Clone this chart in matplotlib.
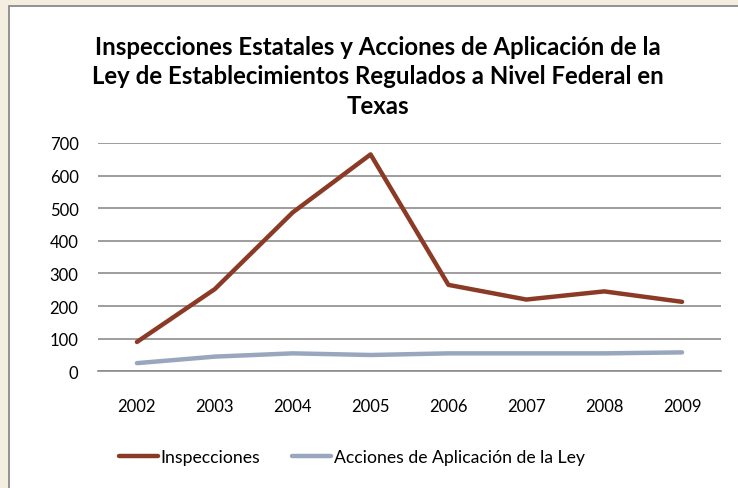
import matplotlib
matplotlib.use("Agg")
import matplotlib.pyplot as plt
from matplotlib.patches import Rectangle
from matplotlib.lines import Line2D

years = ["2002", "2003", "2004", "2005", "2006", "2007", "2008", "2009"]
inspecciones = [90, 252, 487, 665, 265, 220, 245, 213]
acciones = [25, 45, 55, 50, 55, 55, 55, 58]
yticks = [0, 100, 200, 300, 400, 500, 600, 700]

title = ("Inspecciones Estatales y Acciones de Aplicación de la\n"
         "Ley de Establecimientos Regulados a Nivel Federal en\n"
         "Texas")
label_insp = "Inspecciones"
label_acc = "Acciones de Aplicación de la Ley"

plt.rcParams["font.family"] = ["Lato", "DejaVu Sans"]

W, H = 738, 489
fig = plt.figure(figsize=(W / 100, H / 100), dpi=100)
fig.patch.set_facecolor("#F4EEE0")

# white chart frame
frame = Rectangle((9 / W, -0.05), 1.1, 1 - 7 / H + 0.05,
                  transform=fig.transFigure, facecolor="white",
                  edgecolor="#8A8A8A", linewidth=1.3, zorder=0)
fig.patches.append(frame)

ax = fig.add_axes([98 / W, 1 - 372.3 / H, (721 - 98) / W, (372.3 - 144) / H])
ax.set_zorder(2)
ax.set_facecolor("none")

x = range(len(years))
red = "#8B3A26"
blue = "#98A7BD"
ax.plot(x, inspecciones, color=red, lw=3.2, solid_capstyle="round",
        solid_joinstyle="round", zorder=3)
ax.plot(x, acciones, color=blue, lw=3.2, solid_capstyle="round",
        solid_joinstyle="round", zorder=3)

ax.set_xlim(-0.5, len(years) - 0.5)
ax.set_ylim(0, 700)
ax.set_yticks(yticks)
ax.set_yticklabels([str(v) for v in yticks], fontsize=12)
ax.set_xticks(list(x))
ax.set_xticklabels(years, fontsize=12)
ax.tick_params(axis="both", length=0, colors="black")
ax.tick_params(axis="y", pad=14)
ax.tick_params(axis="x", pad=19)
ax.grid(axis="y", color="#8C8C8C", lw=1.2)
ax.set_axisbelow(True)
for s in ["top", "right", "left"]:
    ax.spines[s].set_visible(False)
ax.spines["bottom"].set_color("#8C8C8C")
ax.spines["bottom"].set_linewidth(1.2)

fig.text(378 / W, 1 - 77 / H, title, ha="center", va="center",
         fontsize=17.3, fontweight="bold", linespacing=1.33, zorder=3)

handles = [Line2D([], [], color=red, lw=3.2, solid_capstyle="round"),
           Line2D([], [], color=blue, lw=3.2, solid_capstyle="round")]
fig.legend(handles, [label_insp, label_acc], loc="center",
           bbox_to_anchor=(352 / W, 1 - 458 / H), ncol=2, frameon=False,
           fontsize=12.7, handlelength=2.2, handletextpad=0.15,
           columnspacing=1.8)

fig.savefig("out.png", dpi=100, facecolor=fig.get_facecolor())
